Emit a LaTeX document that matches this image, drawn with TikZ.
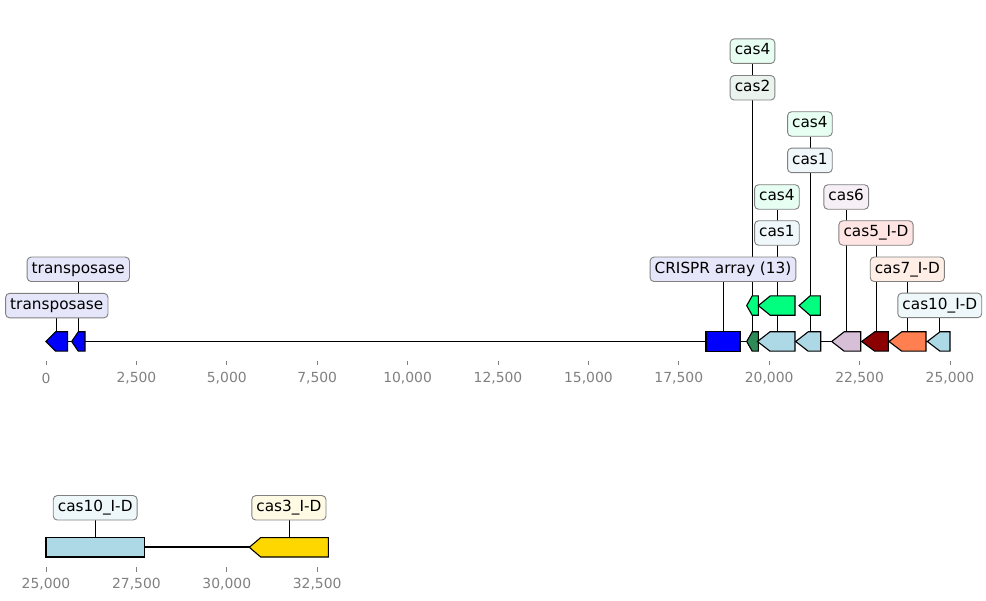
\documentclass[tikz,border=0pt]{standalone}
\usepackage{fontspec}
\setmainfont{DejaVu Sans}
\pgfdeclarelayer{back}
\pgfdeclarelayer{front}
\pgfsetlayers{back,main,front}
\definecolor{gblue}{HTML}{0000FF}
\definecolor{gseagreen}{HTML}{2E8B57}
\definecolor{gspring}{HTML}{00FF7F}
\definecolor{glightblue}{HTML}{ADD8E6}
\definecolor{gthistle}{HTML}{D8BFD8}
\definecolor{gdarkred}{HTML}{8B0000}
\definecolor{gcoral}{HTML}{FF7F50}
\definecolor{ggold}{HTML}{FFD700}
\definecolor{ltrans}{HTML}{E6E6FA}
\definecolor{lcas4}{HTML}{E6FFF2}
\definecolor{lcas2}{HTML}{EAF3EE}
\definecolor{lcas1}{HTML}{EFF7FA}
\definecolor{lcas6}{HTML}{F6EFF6}
\definecolor{lcas5}{HTML}{FFE4E4}
\definecolor{lcas7}{HTML}{FFEEE6}
\definecolor{lcas10}{HTML}{EEF7F9}
\definecolor{lcas3}{HTML}{FFFAE3}
\definecolor{boxgray}{HTML}{808080}
\definecolor{tickgray}{HTML}{808080}
\tikzset{
  lab/.style={draw=boxgray, line width=0.9pt, rounded corners=4pt, inner xsep=4.6pt,
    inner ysep=0pt, minimum height=24.5pt, text height=11pt, text depth=3.5pt,
    font=\fontsize{15.3}{18}\selectfont},
  gene/.style={draw=black, line width=1.1pt, line join=miter},
  conn/.style={black, line width=0.7pt},
  axisline/.style={black, line width=1.8pt},
  tickmark/.style={tickgray, line width=0.8pt},
  ticklab/.style={text=tickgray, font=\fontsize{13.9}{16}\selectfont, inner sep=0pt}
}
% left-pointing gene: name, x1, x2, yc, colour, head length
\newcommand\genleft[6]{%
  \draw[gene, fill=#5] (#2,#4) -- ({#2+#6},{#4-9.7}) -- (#3,{#4-9.7}) -- (#3,{#4+9.7})
    -- ({#2+#6},{#4+9.7}) -- cycle;
  \coordinate (#1) at ({(#2+#3)/2},{#4-9.7});}
% rectangular feature: name, x1, x2, yc, colour
\newcommand\genrect[5]{%
  \draw[gene, fill=#5] (#2,{#4-9.7}) rectangle (#3,{#4+9.7});
  \coordinate (#1) at ({(#2+#3)/2},{#4-9.7});}
\begin{document}
\begin{tikzpicture}[x=1pt,y=-1pt]
\useasboundingbox (0,0) rectangle (986,601);

% ---------- labels (front layer) ----------
\begin{pgfonlayer}{front}
\node[lab, fill=ltrans] (Ltr1) at (56.8,305.6) {transposase};
\node[lab, fill=ltrans] (Ltr2) at (78.3,269.3) {transposase};
\node[lab, fill=ltrans] (Lcr) at (723,269.3) {CRISPR array (13)};
\node[lab, fill=lcas2] (Lcas2) at (752.5,87.8) {cas2};
\node[lab, fill=lcas4] (Lcas4a) at (752.5,51.2) {cas4};
\node[lab, fill=lcas1] (Lcas1a) at (776.9,233) {cas1};
\node[lab, fill=lcas4] (Lcas4b) at (776.9,197) {cas4};
\node[lab, fill=lcas1] (Lcas1b) at (809.9,160.4) {cas1};
\node[lab, fill=lcas4] (Lcas4c) at (809.9,124) {cas4};
\node[lab, fill=lcas6] (Lcas6) at (846.2,197) {cas6};
\node[lab, fill=lcas5] (Lcas5) at (876,233) {cas5\_I-D};
\node[lab, fill=lcas7] (Lcas7) at (907.3,269.3) {cas7\_I-D};
\node[lab, fill=lcas10] (Lcas10) at (939.8,305.4) {cas10\_I-D};
\node[lab, fill=lcas10] (Lcas10b) at (95.2,507.8) {cas10\_I-D};
\node[lab, fill=lcas3] (Lcas3) at (288.9,507.8) {cas3\_I-D};
\end{pgfonlayer}

% ---------- genes, axis 1 ----------
\genleft{gtr1}{46}{67.5}{341.5}{gblue}{9.5}
\genleft{gtr2}{71.7}{85}{341.5}{gblue}{6.6}
\genrect{gcr}{706}{740}{341.5}{gblue}
\genleft{gsg}{746.7}{758.3}{341.5}{gseagreen}{5.5}
\genleft{gsp1}{746.7}{758.3}{305.6}{gspring}{5.5}
\genleft{glb1}{757.5}{795}{341.5}{glightblue}{12.5}
\genleft{gsp2}{758.3}{795}{305.6}{gspring}{12}
\genleft{glb2}{795.7}{820.7}{341.5}{glightblue}{12.5}
\genleft{gsp3}{799}{820.3}{305.6}{gspring}{11}
\genleft{gth}{831.7}{860.7}{341.5}{gthistle}{12.5}
\genleft{gdr}{861.7}{888.3}{341.5}{gdarkred}{13}
\genleft{gco}{889}{926}{341.5}{gcoral}{12.7}
\genleft{glb3}{927.3}{950}{341.5}{glightblue}{12.7}

% ---------- genes, axis 2 ----------
\genrect{glb4}{46}{144.3}{547.3}{glightblue}
\genleft{ggo}{249.3}{328.3}{547.3}{ggold}{11.4}

% ---------- backbone, connectors (back layer) ----------
\begin{pgfonlayer}{back}
\coordinate (a1s) at (46,341.5);
\coordinate (a1e) at (950,341.5);
\coordinate (a2s) at (46,547.3);
\coordinate (a2e) at (328.3,547.3);
\draw[axisline] (a1s) -- (a1e);
\draw[axisline] (a2s) -- (a2e);
\draw[conn] (Ltr1) -- (Ltr1 |- gtr1);
\draw[conn] (Ltr2) -- (Ltr2 |- gtr2);
\draw[conn] (Lcr) -- (Lcr |- gcr);
\draw[conn] (Lcas2) -- (Lcas2 |- gsg);
\draw[conn] (Lcas4a) -- (Lcas4a |- gsp1);
\draw[conn] (Lcas1a) -- (Lcas1a |- glb1);
\draw[conn] (Lcas4b) -- (Lcas4b |- gsp2);
\draw[conn] (Lcas1b) -- (Lcas1b |- glb2);
\draw[conn] (Lcas4c) -- (Lcas4c |- gsp3);
\draw[conn] (Lcas6) -- (Lcas6 |- gth);
\draw[conn] (Lcas5) -- (Lcas5 |- gdr);
\draw[conn] (Lcas7) -- (Lcas7 |- gco);
\draw[conn] (Lcas10) -- (Lcas10 |- glb3);
\draw[conn] (Lcas10b) -- (Lcas10b |- glb4);
\draw[conn] (Lcas3) -- (Lcas3 |- ggo);
\end{pgfonlayer}

% ---------- axis ticks ----------
\foreach \k/\t in {0/0, 1/{2,500}, 2/{5,000}, 3/{7,500}, 4/{10,000}, 5/{12,500},
                   6/{15,000}, 7/{17,500}, 8/{20,000}, 9/{22,500}, 10/{25,000}} {
  \draw[tickmark] ({46+90.4*\k},360.8) -- ({46+90.4*\k},365.5);
  \node[ticklab] (tka\k) at ({46+90.4*\k},378.3) {\t};
}
\foreach \k/\t in {0/{25,000}, 1/{27,500}, 2/{30,000}, 3/{32,500}} {
  \draw[tickmark] ({46+90.4*\k},567.3) -- ({46+90.4*\k},572);
  \node[ticklab] (tkb\k) at ({46+90.4*\k},584) {\t};
}
\end{tikzpicture}
\end{document}
